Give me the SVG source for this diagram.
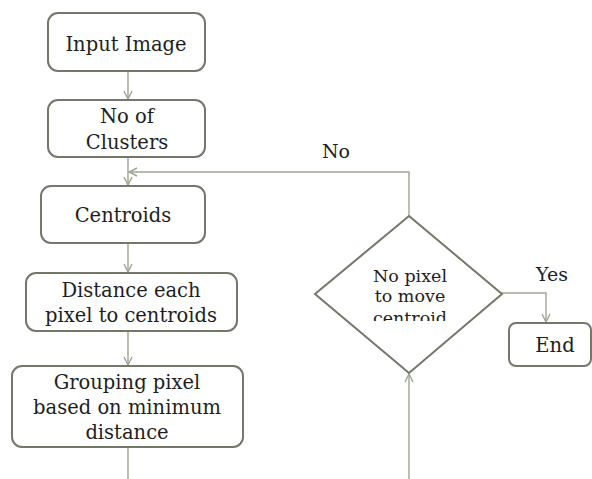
<svg xmlns="http://www.w3.org/2000/svg" width="592" height="479" viewBox="0 0 592 479">
<style>
.box{fill:#fff;stroke:#737868;stroke-width:2}
.ln{fill:none;stroke:#9ca690;stroke-width:1.4}
text{font-family:"DejaVu Serif","Liberation Serif",serif;fill:#1e1e1e;text-anchor:middle}
.t{font-size:19.5px}
.s{font-size:17.5px}
.l{font-size:19px}
</style>
<defs>
<marker id="ah" viewBox="0 0 10 10" refX="9" refY="5" markerWidth="10" markerHeight="10" markerUnits="userSpaceOnUse" orient="auto">
<path d="M1,1 L9,5 L1,9" fill="none" stroke="#9ca690" stroke-width="1.4"/>
</marker>
<clipPath id="dclip"><rect x="300" y="200" width="220" height="121"/></clipPath>
</defs>
<rect width="592" height="479" fill="#fff"/>
<g id="connectors">
<line class="ln" x1="128" y1="71" x2="128" y2="99" marker-end="url(#ah)"/>
<line class="ln" x1="128" y1="157" x2="128" y2="185" marker-end="url(#ah)"/>
<line class="ln" x1="128" y1="243" x2="128" y2="272" marker-end="url(#ah)"/>
<line class="ln" x1="128" y1="331" x2="128" y2="365" marker-end="url(#ah)"/>
<line class="ln" x1="128" y1="447" x2="128" y2="479"/>
<line class="ln" x1="409" y1="479" x2="409" y2="374" marker-end="url(#ah)"/>
<polyline class="ln" points="409,216 409,172 129,172" marker-end="url(#ah)"/>
<polyline class="ln" points="502,293 546,293 546,322" marker-end="url(#ah)"/>
<text class="l" x="336" y="158">No</text>
<text class="l" x="552" y="281">Yes</text>
</g>
<g id="input">
<rect class="box" x="48" y="13" width="157" height="58" rx="10"/>
<text class="t" x="126" y="51">Input Image</text>
</g>
<g id="clusters">
<rect class="box" x="48" y="100" width="157" height="57" rx="10"/>
<text class="t" x="127" y="123">No of</text>
<text class="t" x="127" y="149">Clusters</text>
</g>
<g id="centroids">
<rect class="box" x="41" y="186" width="164" height="57" rx="10"/>
<text class="t" x="123" y="222">Centroids</text>
</g>
<g id="distance">
<rect class="box" x="26" y="273" width="211" height="58" rx="10"/>
<text class="t" x="131" y="297">Distance each</text>
<text class="t" x="131" y="322">pixel to centroids</text>
</g>
<g id="grouping">
<rect class="box" x="12" y="366" width="231" height="81" rx="10"/>
<text class="t" x="127" y="389">Grouping pixel</text>
<text class="t" x="127" y="414">based on minimum</text>
<text class="t" x="127" y="439">distance</text>
</g>
<g id="decision">
<polygon class="box" points="409,216 502,294 409,373 315,294"/>
<g clip-path="url(#dclip)">
<text class="s" x="410" y="282">No pixel</text>
<text class="s" x="410" y="302">to move</text>
<text class="s" x="410" y="324">centroid</text>
</g>
</g>
<g id="end">
<rect class="box" x="509" y="323" width="82" height="43" rx="7"/>
<text class="t" x="555" y="352">End</text>
</g>
</svg>
